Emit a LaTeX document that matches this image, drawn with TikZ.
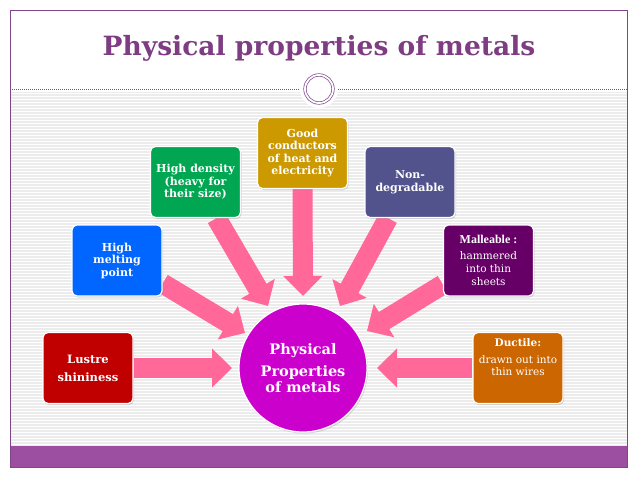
\documentclass[tikz,border=0pt]{standalone}
\usepackage{fontspec}
\setmainfont{DejaVu Serif}
\newfontfamily\timesfont{Liberation Serif}
\usetikzlibrary{arrows.meta, positioning, shadows}

\definecolor{framepurple}{RGB}{128,70,140}
\definecolor{titlepurple}{RGB}{126,60,130}
\definecolor{barpurple}{RGB}{156,78,160}
\definecolor{stripegray}{RGB}{236,236,236}
\definecolor{lustrered}{RGB}{192,0,0}
\definecolor{meltblue}{RGB}{0,102,255}
\definecolor{densgreen}{RGB}{0,166,81}
\definecolor{condgold}{RGB}{204,153,0}
\definecolor{nondegslate}{RGB}{82,82,140}
\definecolor{mallpurple}{RGB}{102,0,102}
\definecolor{ductorange}{RGB}{204,102,0}
\definecolor{hubmagenta}{RGB}{204,0,204}
\definecolor{arrowpink}{RGB}{255,104,152}

\pgfdeclarelayer{bg}
\pgfdeclarelayer{arrows}
\pgfsetlayers{bg,arrows,main}

\begin{document}
\begin{tikzpicture}[
      x=1pt, y=-1pt,
      box/.style={rectangle, draw=white, line width=1.2pt, rounded corners=5pt, minimum width=90pt, minimum height=71pt, inner sep=2pt, align=center, text=white, font=\fontsize{11}{12.5}\selectfont\bfseries, drop shadow={opacity=0.3, shadow xshift=1pt, shadow yshift=-1.5pt}},
      hub/.style={circle, draw=white, line width=1.2pt, fill=hubmagenta, minimum size=128pt, align=center, text=white, font=\fontsize{14.5}{16}\selectfont\bfseries, drop shadow={opacity=0.3, shadow xshift=1pt, shadow yshift=-1.5pt}},
      arrow/.style={draw=arrowpink, line width=20pt, -{Triangle[length=20pt, width=38pt]}},
      halo/.style={circle, fill=white, minimum size=38pt, inner sep=0pt},
      ring/.style={circle, draw=framepurple, line width=0.7pt, double=white, double distance=1.8pt, minimum size=28pt, inner sep=0pt},
      title/.style={text=titlepurple, font=\fontsize{26.5}{30}\selectfont\bfseries}
      ]
      \useasboundingbox (0,0) rectangle (638,479);

      % Slide background
      \begin{pgfonlayer}{bg}
        \fill[white] (0,0) rectangle (638,479);
        \fill[stripegray] (10.4,92) rectangle (626.6,446);
        \foreach \yy in {93.5,96.5,...,445} {
          \draw[white, line width=1.1pt] (10.4,\yy) -- (626.6,\yy);
        }
        \fill[barpurple] (10.4,446) rectangle (626.6,466.6);
        \draw[framepurple, line width=0.8pt] (10,10) rectangle (627,467);
      \end{pgfonlayer}

      % Title and divider
      \node[title] (title) at (319,48) {Physical properties of metals};
      \node[halo] (halo) at (319,89) {};
      \node[ring] (ring) at (319,89) {};
      \coordinate (divleft) at (10,89);
      \coordinate (divright) at (627,89);
      \draw[framepurple, line width=0.6pt, dash pattern=on 1.2pt off 0.8pt] (divleft) -- (halo.west);
      \draw[framepurple, line width=0.6pt, dash pattern=on 1.2pt off 0.8pt] (halo.east) -- (divright);

      % Central hub
      \node[hub] (hub) at (303,368) {Physical\\[6pt]Properties\\of metals};

      % Property boxes
      \node[box, fill=lustrered, font=\fontsize{11.5}{13}\selectfont\bfseries] (lustre) at (88,368) {Lustre\\[5pt]shininess};
      \node[box, fill=meltblue] (melt) at (117,260.5) {High\\melting\\point};
      \node[box, fill=densgreen] (dens) at (195.5,182) {High density\\(heavy for\\their size)};
      \node[box, fill=condgold] (cond) at (302.5,153) {Good\\conductors\\of heat and\\electricity};
      \node[box, fill=nondegslate] (nondeg) at (410,182) {Non-\\degradable};
      \node[box, fill=mallpurple, font=\fontsize{10.5}{13}\selectfont] (mall) at (488.5,260.5) {\fontsize{12}{13}\selectfont\timesfont\bfseries Malleable :\\[3pt]hammered\\into thin\\sheets};
      \node[box, fill=ductorange, font=\fontsize{10.5}{12}\selectfont] (duct) at (518,368) {\bfseries Ductile:\\[5pt]drawn out into\\thin wires\\[9pt]~};

      % Arrow tips
      \coordinate (tiplustre) at (232,368);
      \coordinate (tipmelt) at (245,333);
      \coordinate (tipdens) at (268,306);
      \coordinate (tipcond) at (303,296);
      \coordinate (tipnondeg) at (340,306);
      \coordinate (tipmall) at (367,331);
      \coordinate (tipduct) at (377,368);

      % Arrows into the hub
      \begin{pgfonlayer}{arrows}
        \draw[arrow] (lustre.east) -- (tiplustre);
        \draw[arrow] ([yshift=-23pt]melt.east) -- (tipmelt);
        \draw[arrow] ([xshift=21pt]dens.south) -- (tipdens);
        \draw[arrow] (cond.south) -- (tipcond);
        \draw[arrow] ([xshift=-22pt]nondeg.south) -- (tipnondeg);
        \draw[arrow] ([yshift=-24pt]mall.west) -- (tipmall);
        \draw[arrow] (duct.west) -- (tipduct);
      \end{pgfonlayer}

   \end{tikzpicture}
\end{document}
